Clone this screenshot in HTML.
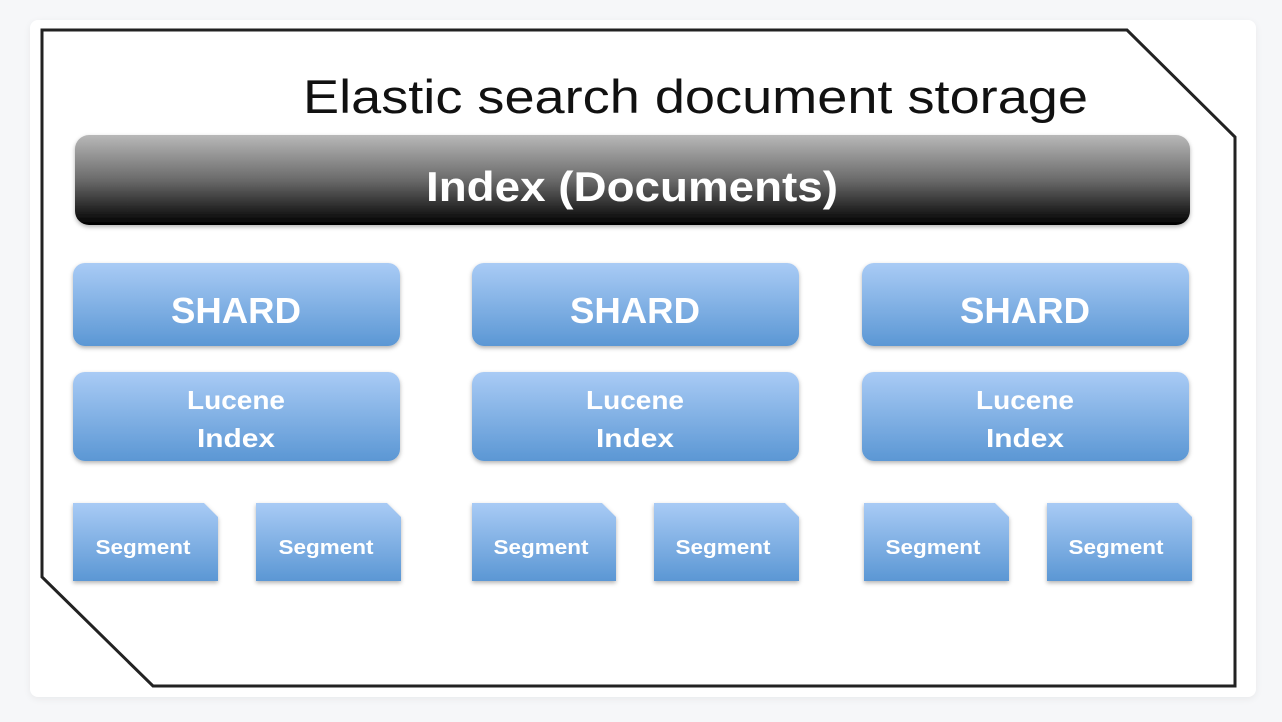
<!DOCTYPE html>
<html><head><style>
html,body{margin:0;padding:0;background:#f6f7f9;}
.card{position:absolute;left:30px;top:20px;width:1226px;height:677px;background:#fff;border-radius:8px;box-shadow:0 2px 8px rgba(0,0,0,0.06);}
svg{position:absolute;left:0;top:0;}
text{font-family:"Liberation Sans",sans-serif;}
</style></head><body>
<div class="card"></div>
<svg width="1282" height="722" viewBox="0 0 1282 722">
<defs>
<linearGradient id="gb" x1="0" y1="0" x2="0" y2="1">
<stop offset="0" stop-color="#b8b8b8"/><stop offset="0.5" stop-color="#6a6a6a"/><stop offset="1" stop-color="#000"/>
</linearGradient>
<linearGradient id="bl" x1="0" y1="0" x2="0" y2="1">
<stop offset="0" stop-color="#a9cbf5"/><stop offset="1" stop-color="#5b97d4"/>
</linearGradient>
<filter id="sh" x="-5%" y="-5%" width="110%" height="120%"><feDropShadow dx="0" dy="2" stdDeviation="2" flood-opacity="0.3"/></filter>
</defs>
<polygon points="42,30 1127,30 1235,137 1235,686 153,686 42,577" fill="none" stroke="#222" stroke-width="3"/>
<text x="303" y="113" font-size="47" fill="#111" textLength="785" lengthAdjust="spacingAndGlyphs">Elastic search document storage</text>
<rect x="75" y="135" width="1115" height="90" rx="14" fill="url(#gb)" filter="url(#sh)"/>
<text x="632" y="201" font-size="42" font-weight="bold" fill="#fff" text-anchor="middle" textLength="412" lengthAdjust="spacingAndGlyphs">Index (Documents)</text>
<g filter="url(#sh)">
<rect x="73" y="263" width="327" height="83" rx="12" fill="url(#bl)"/>
<rect x="472" y="263" width="327" height="83" rx="12" fill="url(#bl)"/>
<rect x="862" y="263" width="327" height="83" rx="12" fill="url(#bl)"/>
<rect x="73" y="372" width="327" height="89" rx="12" fill="url(#bl)"/>
<rect x="472" y="372" width="327" height="89" rx="12" fill="url(#bl)"/>
<rect x="862" y="372" width="327" height="89" rx="12" fill="url(#bl)"/>
<polygon points="73,503 204,503 218,517 218,581 73,581" fill="url(#bl)"/>
<polygon points="256,503 387,503 401,517 401,581 256,581" fill="url(#bl)"/>
<polygon points="472,503 602,503 616,517 616,581 472,581" fill="url(#bl)"/>
<polygon points="654,503 785,503 799,517 799,581 654,581" fill="url(#bl)"/>
<polygon points="864,503 995,503 1009,517 1009,581 864,581" fill="url(#bl)"/>
<polygon points="1047,503 1178,503 1192,517 1192,581 1047,581" fill="url(#bl)"/>
</g>
<g fill="#fff" font-weight="bold" text-anchor="middle">
<text x="236" y="323" font-size="36" textLength="130" lengthAdjust="spacingAndGlyphs">SHARD</text>
<text x="635" y="323" font-size="36" textLength="130" lengthAdjust="spacingAndGlyphs">SHARD</text>
<text x="1025" y="323" font-size="36" textLength="130" lengthAdjust="spacingAndGlyphs">SHARD</text>
<g font-size="26">
<text x="236" y="409" textLength="98" lengthAdjust="spacingAndGlyphs">Lucene</text>
<text x="236" y="447" textLength="78" lengthAdjust="spacingAndGlyphs">Index</text>
<text x="635" y="409" textLength="98" lengthAdjust="spacingAndGlyphs">Lucene</text>
<text x="635" y="447" textLength="78" lengthAdjust="spacingAndGlyphs">Index</text>
<text x="1025" y="409" textLength="98" lengthAdjust="spacingAndGlyphs">Lucene</text>
<text x="1025" y="447" textLength="78" lengthAdjust="spacingAndGlyphs">Index</text>
</g>
<g font-size="20">
<text x="143" y="554" textLength="95" lengthAdjust="spacingAndGlyphs">Segment</text>
<text x="326" y="554" textLength="95" lengthAdjust="spacingAndGlyphs">Segment</text>
<text x="541" y="554" textLength="95" lengthAdjust="spacingAndGlyphs">Segment</text>
<text x="723" y="554" textLength="95" lengthAdjust="spacingAndGlyphs">Segment</text>
<text x="933" y="554" textLength="95" lengthAdjust="spacingAndGlyphs">Segment</text>
<text x="1116" y="554" textLength="95" lengthAdjust="spacingAndGlyphs">Segment</text>
</g>
</g>
</svg>
</body></html>
